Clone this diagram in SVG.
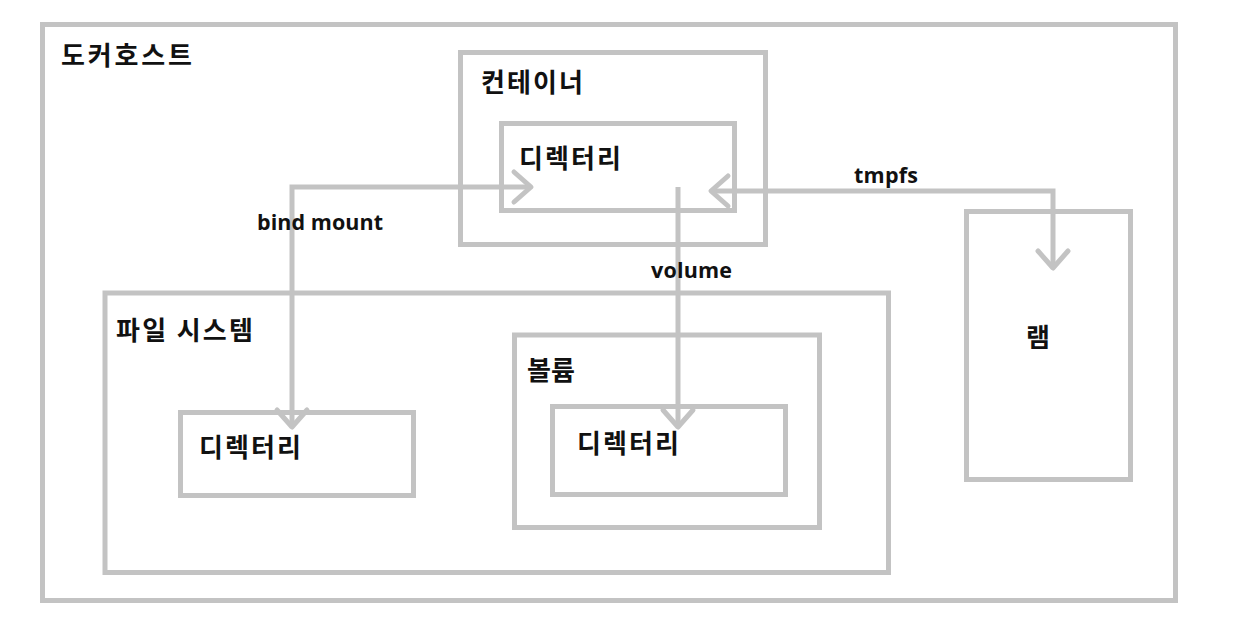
<svg xmlns="http://www.w3.org/2000/svg" width="1254" height="624" viewBox="0 0 1254 624">
<style>
.box{fill:none;stroke:#c3c3c3;stroke-width:5}
.conn{fill:none;stroke:#c3c3c3;stroke-width:5}
.ko{font-family:"Noto Sans CJK KR","Noto Sans",sans-serif;font-weight:bold;font-size:26px;fill:#111}
.en{font-family:"Open Sans","Noto Sans",sans-serif;font-weight:bold;font-size:21.5px;fill:#111}
</style>
<defs>
<marker id="arr" markerUnits="userSpaceOnUse" markerWidth="40" markerHeight="40" refX="0" refY="0" viewBox="-20 -20 40 40" orient="auto-start-reverse" overflow="visible">
<path d="M-17,-15 L0,0 L-17,15" fill="none" stroke="#c3c3c3" stroke-width="5" stroke-linecap="round" stroke-linejoin="round"/>
</marker>
</defs>
<rect width="1254" height="624" fill="#fff"/>
<g id="docker-host">
<rect class="box" x="42.5" y="24.5" width="1133" height="576"/>
<text class="ko" x="61" y="65" textLength="131">도커호스트</text>
</g>
<g id="container">
<rect class="box" x="460.5" y="52.5" width="305" height="192"/>
<text class="ko" x="481" y="92" textLength="102">컨테이너</text>
</g>
<g id="container-dir">
<rect class="box" x="501.5" y="123.5" width="233" height="87"/>
<text class="ko" x="519" y="168" textLength="102">디렉터리</text>
</g>
<g id="filesystem">
<rect class="box" x="105" y="293" width="783.5" height="279.5"/>
<text class="ko" x="116" y="340" textLength="137">파일 시스템</text>
</g>
<g id="fs-dir">
<rect class="box" x="180.5" y="412.5" width="233" height="83"/>
<text class="ko" x="199" y="457" textLength="102">디렉터리</text>
</g>
<g id="volume">
<rect class="box" x="514.5" y="335" width="305" height="192.5"/>
<text class="ko" x="527" y="380">볼륨</text>
</g>
<g id="volume-dir">
<rect class="box" x="552.5" y="406.5" width="233" height="88"/>
<text class="ko" x="577" y="453" textLength="102">디렉터리</text>
</g>
<g id="ram">
<rect class="box" x="966.5" y="211.5" width="164" height="268"/>
<text class="ko" x="1026" y="347">램</text>
</g>
<g id="connectors">
<path class="conn" d="M292,427 L292,187 L531,187" marker-start="url(#arr)" marker-end="url(#arr)"/>
<path class="conn" d="M678,187 L678,427" marker-end="url(#arr)"/>
<path class="conn" d="M711,191 L1053,191 L1053,268" marker-start="url(#arr)" marker-end="url(#arr)"/>
<text class="en" x="257" y="230" textLength="126">bind mount</text>
<text class="en" x="651" y="278" textLength="81">volume</text>
<text class="en" x="854" y="183" textLength="64">tmpfs</text>
</g>
</svg>
